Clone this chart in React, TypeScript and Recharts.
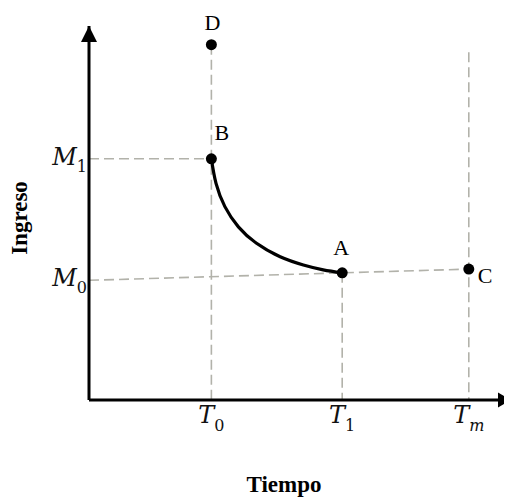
import { ComposedChart, Line, Scatter, XAxis, YAxis, ReferenceDot } from 'recharts'

// axis ticks (data units: both axes run 0..100)
const TIME_TICKS = [29, 60, 90]
const TIME_LABELS = [['T', '0'], ['T', '1'], ['T', 'm']]
const INCOME_TICKS = [32, 64.5]
const INCOME_LABELS = [['M', '0'], ['M', '1']]

// indifference curve from B to A
const CURVE_X = [29, 30.1, 32.2, 35.4, 39.7, 45.3, 50.8, 55.5, 60]
const CURVE_Y = [64.5, 57.9, 51.7, 46.3, 41.9, 38.3, 36.1, 34.8, 34]

// named points
const POINT_NAMES = ['D', 'B', 'A', 'C']
const POINT_X = [29, 29, 60, 90]
const POINT_Y = [95, 64.5, 34, 35]

// top of the dashed guide above T_m
const TM_GUIDE_TOP = 93

const X_MAX = 100
const Y_MAX = 100

const curveData = CURVE_X.map((x, i) => ({ x, y: CURVE_Y[i] }))
const pointData = POINT_NAMES.map((name, i) => ({ name, x: POINT_X[i], y: POINT_Y[i] }))

const guides = [
  [{ x: POINT_X[0], y: POINT_Y[0] }, { x: POINT_X[0], y: 0 }],
  [{ x: POINT_X[2], y: POINT_Y[2] }, { x: POINT_X[2], y: 0 }],
  [{ x: TIME_TICKS[2], y: TM_GUIDE_TOP }, { x: TIME_TICKS[2], y: 0 }],
  [{ x: 0, y: INCOME_TICKS[1] }, { x: POINT_X[1], y: POINT_Y[1] }],
  [{ x: 0, y: INCOME_TICKS[0] }, { x: POINT_X[3], y: POINT_Y[3] }],
]

const SERIF = '"Liberation Serif", "Times New Roman", serif'
const MATH = '"DejaVu Serif", serif'
const GUIDE_COLOR = '#b2b2aa'

const labelOffset: Record<string, { dx: number; dy: number; anchor: string }> = {
  D: { dx: 1, dy: -15, anchor: 'middle' },
  B: { dx: 3, dy: -19, anchor: 'start' },
  A: { dx: -1, dy: -18, anchor: 'middle' },
  C: { dx: 9, dy: 14, anchor: 'start' },
}

const TimeTick = ({ x, y, payload }: any) => {
  const i = TIME_TICKS.indexOf(payload.value)
  if (i < 0) return null
  const [base, sub] = TIME_LABELS[i]
  return (
    <text x={x} y={y + 23} textAnchor="middle" fontFamily={MATH} fontSize={24} fill="#111">
      <tspan fontStyle="italic">{base}</tspan>
      <tspan fontSize={16} dy={8} fontStyle={sub === 'm' ? 'italic' : 'normal'}>{sub}</tspan>
    </text>
  )
}

const IncomeTick = ({ x, y, payload }: any) => {
  const i = INCOME_TICKS.indexOf(payload.value)
  if (i < 0) return null
  const [base, sub] = INCOME_LABELS[i]
  return (
    <text x={x} y={y + 6} textAnchor="end" fontFamily={MATH} fontSize={24} fill="#111">
      <tspan fontStyle="italic">{base}</tspan>
      <tspan fontSize={16} dy={7}>{sub}</tspan>
    </text>
  )
}

const PointShape = ({ cx, cy, payload }: any) => {
  const o = labelOffset[payload.name]
  return (
    <g>
      <circle cx={cx} cy={cy} r={5.5} fill="#000" />
      <text x={cx + o.dx} y={cy + o.dy} textAnchor={o.anchor} fontFamily={SERIF} fontSize={22} fill="#000">
        {payload.name}
      </text>
    </g>
  )
}

const ArrowUp = ({ cx, cy }: any) => (
  <polygon points={`${cx},${cy} ${cx - 8},${cy + 16} ${cx + 8},${cy + 16}`} fill="#000" />
)

const ArrowRight = ({ cx, cy }: any) => (
  <polygon points={`${cx},${cy} ${cx - 13},${cy - 7.5} ${cx - 13},${cy + 7.5}`} fill="#000" />
)

const TimeLabel = ({ viewBox }: any) => (
  <text
    x={viewBox.x + viewBox.width / 2 - 16}
    y={viewBox.y + 92}
    textAnchor="middle"
    fontFamily={SERIF}
    fontWeight="bold"
    fontSize={23}
    fill="#000"
  >
    Tiempo
  </text>
)

const IncomeLabel = ({ viewBox }: any) => {
  const x = viewBox.x + 19
  const y = viewBox.y + viewBox.height / 2 + 5
  return (
    <text
      x={x}
      y={y}
      transform={`rotate(-90, ${x}, ${y})`}
      textAnchor="middle"
      fontFamily={SERIF}
      fontWeight="bold"
      fontSize={23}
      fill="#000"
    >
      Ingreso
    </text>
  )
}

export default function App() {
  return (
    <ComposedChart width={504} height={491} margin={{ top: 18, right: 1, left: 0, bottom: 0 }}>
      <XAxis
        type="number"
        dataKey="x"
        domain={[0, X_MAX]}
        ticks={TIME_TICKS}
        interval={0}
        height={99}
        tickLine={false}
        tickSize={0}
        tickMargin={0}
        axisLine={{ stroke: '#000', strokeWidth: 3 }}
        tick={<TimeTick />}
        label={<TimeLabel />}
      />
      <YAxis
        type="number"
        dataKey="y"
        domain={[0, Y_MAX]}
        ticks={INCOME_TICKS}
        interval={0}
        width={81}
        tickLine={false}
        tickSize={0}
        tickMargin={2}
        axisLine={{ stroke: '#000', strokeWidth: 3 }}
        tick={<IncomeTick />}
        label={<IncomeLabel />}
      />
      {guides.map((g, i) => (
        <Line
          key={`guide-${i}`}
          data={g}
          dataKey="y"
          stroke={GUIDE_COLOR}
          strokeWidth={1.6}
          strokeDasharray="10 5"
          dot={false}
          activeDot={false}
          isAnimationActive={false}
        />
      ))}
      <Line
        data={curveData}
        dataKey="y"
        type="natural"
        stroke="#000"
        strokeWidth={3.2}
        dot={false}
        activeDot={false}
        isAnimationActive={false}
      />
      <Scatter data={pointData} dataKey="y" shape={<PointShape />} isAnimationActive={false} />
      <ReferenceDot x={0} y={Y_MAX} shape={<ArrowUp />} ifOverflow="visible" />
      <ReferenceDot x={X_MAX} y={0} shape={<ArrowRight />} ifOverflow="visible" />
    </ComposedChart>
  )
}
